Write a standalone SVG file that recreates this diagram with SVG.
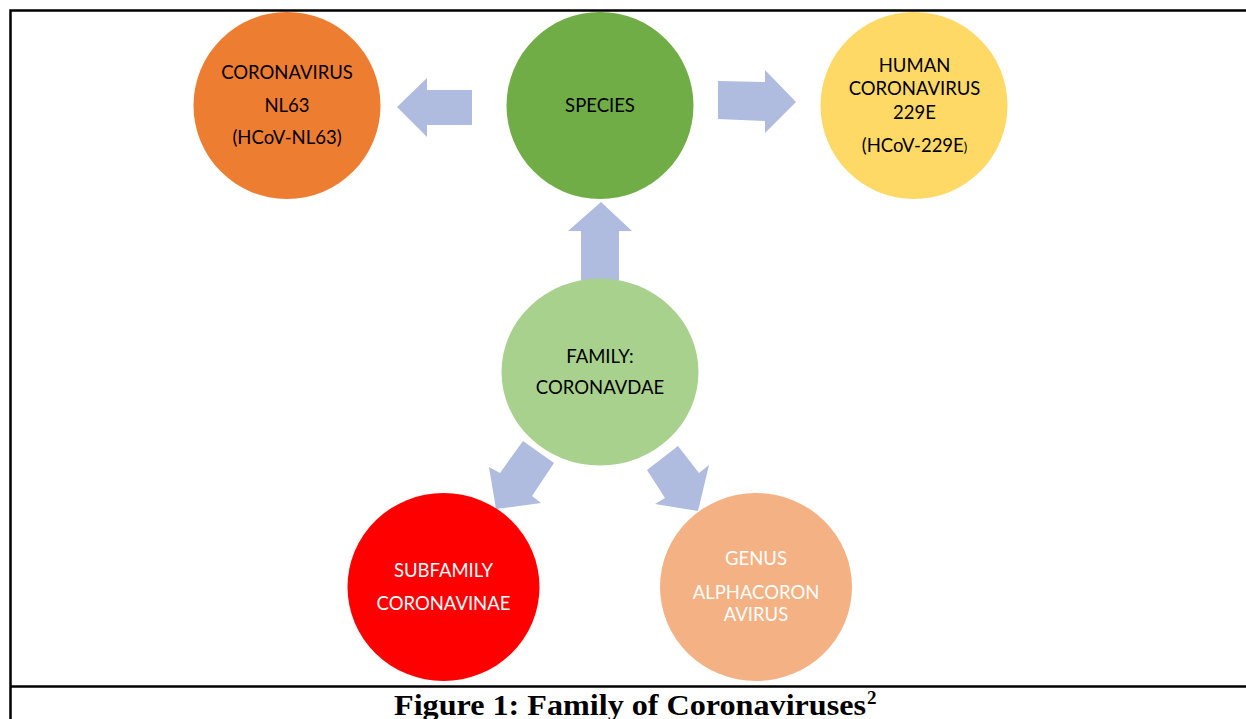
<svg xmlns="http://www.w3.org/2000/svg" width="1246" height="719" viewBox="0 0 1246 719">
<style>
.lbl{font-family:Lato,"Open Sans",sans-serif;font-size:18.5px;text-anchor:middle;fill:#000}
.w{fill:#fff}
.arr{fill:#AFBCDF}
.frame{fill:none;stroke:#000;stroke-width:2.5}
.cap{font-family:"Liberation Serif","Times New Roman",serif;font-weight:bold;fill:#000}
</style>
<rect width="1246" height="719" fill="#fff"/>
<path class="frame" d="M1246,10.5 H10.5 V719"/>
<line class="frame" x1="10" y1="686.5" x2="1246" y2="686.5"/>
<g id="connectors">
<polygon class="arr" points="397,107 427,78 427,90 472,90 472,125 427,125 427,137"/>
<polygon class="arr" points="718,81 765,82 765,70 796,102 765,133 765,121 718,119"/>
<polygon class="arr" points="601,202 632,231 619,231 619,280 581,280 581,231 568,231"/>
<polygon class="arr" points="523,441 554,463 532,496 541,503 496,509 489,467 500,473"/>
<polygon class="arr" points="647,470 678,446 699,473 709,465 698,511 655,504 665,498"/>
</g>
<g id="node-nl63">
<ellipse cx="287" cy="105.5" rx="93.5" ry="93.5" fill="#ED7D31"/>
<text class="lbl" x="287" y="79.3">CORONAVIRUS</text>
<text class="lbl" x="287" y="111.7">NL63</text>
<text class="lbl" x="287" y="144">(HCoV-NL63)</text>
</g>
<g id="node-species">
<ellipse cx="600" cy="105.5" rx="93.5" ry="93.5" fill="#70AD47"/>
<text class="lbl" x="600" y="112.3">SPECIES</text>
</g>
<g id="node-229e">
<ellipse cx="914" cy="105.5" rx="93.5" ry="93.5" fill="#FFD966"/>
<text class="lbl" x="914.5" y="71.7">HUMAN</text>
<text class="lbl" x="914.5" y="95">CORONAVIRUS</text>
<text class="lbl" x="914.5" y="119">229E</text>
<text class="lbl" x="914.5" y="151.7">(HCoV-229E<tspan font-size="13px">)</tspan></text>
</g>
<g id="node-family">
<ellipse cx="600" cy="372" rx="98.5" ry="93.5" fill="#A9D18E"/>
<text class="lbl" x="600" y="362.7">FAMILY:</text>
<text class="lbl" x="600" y="394.3">CORONAVDAE</text>
</g>
<g id="node-subfamily">
<ellipse cx="443.5" cy="587" rx="96" ry="94" fill="#FF0000"/>
<text class="lbl w" x="443.5" y="577.3">SUBFAMILY</text>
<text class="lbl w" x="443.5" y="610.3">CORONAVINAE</text>
</g>
<g id="node-genus">
<ellipse cx="756" cy="587" rx="96" ry="94" fill="#F4B183"/>
<text class="lbl w" x="756" y="565.3">GENUS</text>
<text class="lbl w" x="756" y="598.7">ALPHACORON</text>
<text class="lbl w" x="756" y="620.7">AVIRUS</text>
</g>
<text class="cap" x="394" y="714.5" font-size="29.5px" textLength="472" lengthAdjust="spacingAndGlyphs">Figure 1: Family of Coronaviruses</text>
<text class="cap" x="867" y="704" font-size="19px">2</text>
</svg>
